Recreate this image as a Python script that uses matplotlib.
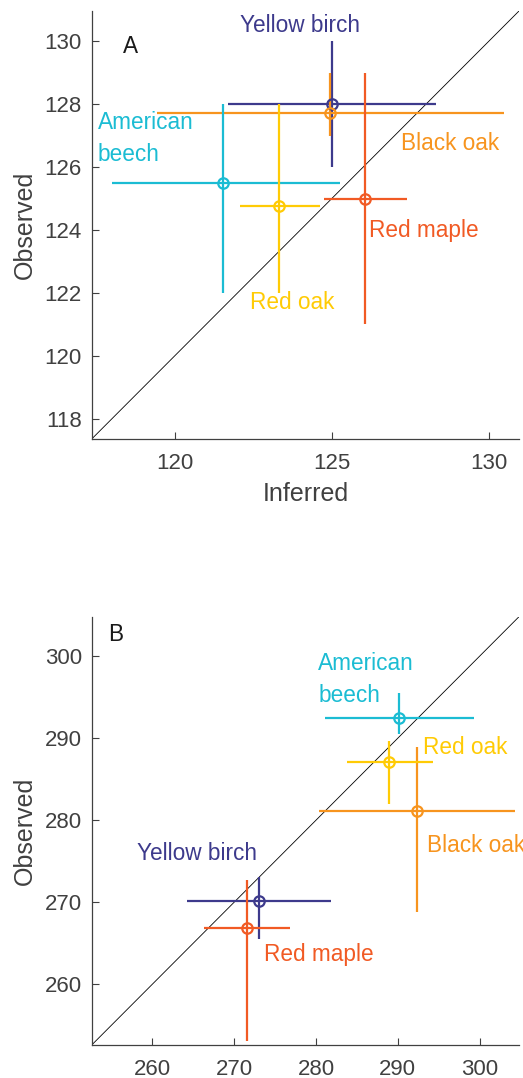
import matplotlib
matplotlib.use("Agg")
import matplotlib.pyplot as plt

plt.rcParams['font.family'] = ['Liberation Sans', 'DejaVu Sans']

species = ["Yellow birch", "Black oak", "American beech", "Red oak", "Red maple"]
colors = ["#3D3A8C", "#F7941E", "#1BBCD3", "#FFCB05", "#F15A24"]

# Panel A: inferred vs observed (centre, lower, upper)
a_x = [125.0, 124.94, 121.54, 123.33, 126.07]
a_x_lo = [121.68, 119.43, 118.0, 122.08, 124.76]
a_x_hi = [128.31, 130.49, 125.25, 124.63, 127.4]
a_y = [128.0, 127.73, 125.5, 124.75, 125.0]
a_y_lo = [126.0, 127.0, 122.0, 122.0, 121.0]
a_y_hi = [130.0, 129.0, 128.0, 128.0, 129.0]

# Panel B
b_x = [273.05, 292.3, 290.17, 288.95, 271.54]
b_x_lo = [264.28, 280.4, 281.1, 283.77, 266.36]
b_x_hi = [281.86, 304.36, 299.27, 294.25, 276.84]
b_y = [270.14, 281.1, 292.5, 287.14, 266.9]
b_y_lo = [265.5, 268.76, 290.55, 282.0, 253.1]
b_y_hi = [273.1, 288.9, 295.5, 289.66, 272.7]

a_ticks_x = [120, 125, 130]
a_ticks_y = [118, 120, 122, 124, 126, 128, 130]
b_ticks = [260, 270, 280, 290, 300]

a_lim = (117.35, 130.97)
b_lim = (252.6, 304.8)

# species label text and anchor (x, vertical centre, alignment) in data units
a_labels = [
    ("Yellow birch", 124.0, 130.5, "center"),
    ("Black oak", 127.2, 126.75, "left"),
    ("American\nbeech", 117.55, 126.9, "left"),
    ("Red oak", 122.4, 121.7, "left"),
    ("Red maple", 126.2, 124.0, "left"),
]
b_labels = [
    ("Yellow birch", 258.1, 275.94, "left"),
    ("Black oak", 293.5, 276.9, "left"),
    ("American\nbeech", 280.3, 297.2, "left"),
    ("Red oak", 293.07, 288.84, "left"),
    ("Red maple", 273.6, 263.57, "left"),
]

W, H = 523, 1078
fig = plt.figure(figsize=(W / 100, H / 100), dpi=100)

grey = "#404040"


def panel(rect, xs, xlo, xhi, ys, ylo, yhi, lim, xticks, yticks, labels, tag, tagpos, xlabel):
    ax = fig.add_axes(rect)
    ax.plot(lim, lim, color="black", lw=0.6, zorder=1)
    for i in range(len(species)):
        c = colors[i]
        ax.plot([xlo[i], xhi[i]], [ys[i], ys[i]], color=c, lw=1.6, solid_capstyle="butt", zorder=2)
        ax.plot([xs[i], xs[i]], [ylo[i], yhi[i]], color=c, lw=1.6, solid_capstyle="butt", zorder=2)
        ax.plot(xs[i], ys[i], marker="o", ms=7.5, mfc="none", mec=c, mew=1.6, zorder=3)
    for (text, lx, ly, ha), c in zip(labels, colors):
        ax.text(lx, ly, text, color=c, fontsize=16.3, ha=ha, va="center", linespacing=1.5)
    ax.text(tagpos[0], tagpos[1], tag, color="#1a1a1a", fontsize=16.3, ha="left", va="center")
    ax.set_xlim(lim)
    ax.set_ylim(lim)
    ax.set_xticks(xticks)
    ax.set_yticks(yticks)
    ax.tick_params(direction="in", length=5, width=0.8, color=grey, labelcolor=grey,
                   labelsize=16)
    ax.tick_params(axis="x", pad=10)
    ax.tick_params(axis="y", pad=7)
    for s in ["top", "right"]:
        ax.spines[s].set_visible(False)
    for s in ["left", "bottom"]:
        ax.spines[s].set_color(grey)
        ax.spines[s].set_linewidth(0.9)
    ax.set_ylabel("Observed", fontsize=18, color=grey, labelpad=6)
    if xlabel:
        ax.set_xlabel("Inferred", fontsize=18, color=grey, labelpad=6)
    return ax


panel([91.7 / W, 1 - 439 / H, 427.3 / W, 428 / H],
      a_x, a_x_lo, a_x_hi, a_y, a_y_lo, a_y_hi, a_lim, a_ticks_x, a_ticks_y,
      a_labels, "A", (118.35, 129.85), True)
panel([91.7 / W, 1 - 1045 / H, 427.3 / W, 428.3 / H],
      b_x, b_x_lo, b_x_hi, b_y, b_y_lo, b_y_hi, b_lim, b_ticks, b_ticks,
      b_labels, "B", (254.6, 302.6), False)

fig.savefig("out.png", dpi=100)
